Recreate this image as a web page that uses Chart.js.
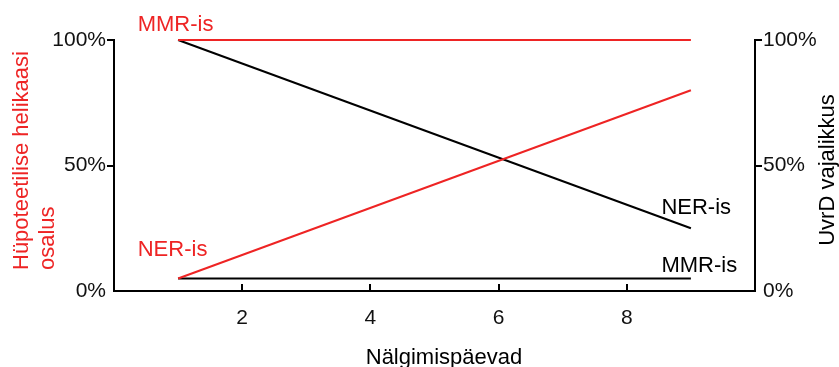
<!DOCTYPE html>
<html>
<head>
<meta charset="utf-8">
<script src="https://cdn.jsdelivr.net/npm/chart.js@4/dist/chart.umd.min.js"></script>
<style>
  html, body { margin: 0; padding: 0; background: #fff; }
</style>
</head>
<body>
<canvas id="myChart" width="839" height="367"></canvas>
<script>
// starvation days on x, both y axes in percent
const days = [1, 9];
const helicaseMMR = [100, 100];   // red, left axis
const helicaseNER = [5, 80];      // red, left axis
const uvrdNER = [100, 25];        // black, right axis
const uvrdMMR = [5, 5];           // black, right axis
const xTicks = [2, 4, 6, 8];
const yTicks = [0, 50, 100];

const xTitle = 'Nälgimispäevad';
const leftTitle = ['Hüpoteetilise helikaasi', 'osalus'];
const rightTitle = 'UvrD vajalikkus';

const RED = '#ee2424';
const FONT = '"Liberation Sans", Arial, sans-serif';

// text tags next to the lines (x in days, y in percent of left axis)
const tags = [
  { text: 'MMR-is', x: 0.37, y: 103.6, color: RED },
  { text: 'NER-is', x: 0.37, y: 13.9, color: RED },
  { text: 'NER-is', x: 8.54, y: 30.7, color: '#000' },
  { text: 'MMR-is', x: 8.54, y: 7.6, color: '#000' }
];

const toPoints = ys => ys.map((y, i) => ({ x: days[i], y: y }));

function lineSet(ys, color, axis) {
  return {
    data: toPoints(ys),
    borderColor: color,
    borderWidth: 2,
    pointRadius: 0,
    yAxisID: axis,
    clip: false
  };
}

const extras = {
  id: 'extras',
  afterDraw(chart) {
    const ctx = chart.ctx;
    const x = chart.scales.x;
    const yL = chart.scales.yL;
    const a = chart.chartArea;
    ctx.save();

    // x ticks point into the plot
    ctx.strokeStyle = '#000';
    ctx.lineWidth = 2;
    xTicks.forEach(v => {
      const px = Math.round(x.getPixelForValue(v));
      ctx.beginPath();
      ctx.moveTo(px, a.bottom);
      ctx.lineTo(px, a.bottom - 7);
      ctx.stroke();
    });

    ctx.font = '22px ' + FONT;
    ctx.textBaseline = 'alphabetic';
    ctx.textAlign = 'left';
    tags.forEach(t => {
      ctx.fillStyle = t.color;
      ctx.fillText(t.text, x.getPixelForValue(t.x), yL.getPixelForValue(t.y));
    });

    // x title
    ctx.fillStyle = '#000';
    ctx.textAlign = 'center';
    ctx.fillText(xTitle, 444, 364);

    // left title, both lines start at the bottom
    ctx.save();
    ctx.fillStyle = RED;
    ctx.textAlign = 'left';
    ctx.textBaseline = 'middle';
    ctx.translate(0, 270);
    ctx.rotate(-Math.PI / 2);
    ctx.fillText(leftTitle[0], 0, 22);
    ctx.fillText(leftTitle[1], 0, 48);
    ctx.restore();

    // right title
    ctx.save();
    ctx.fillStyle = '#000';
    ctx.textAlign = 'center';
    ctx.textBaseline = 'middle';
    ctx.translate(828, 170);
    ctx.rotate(-Math.PI / 2);
    ctx.fillText(rightTitle, 0, 0);
    ctx.restore();

    ctx.restore();
  }
};

function yAxis(pos, width) {
  return {
    type: 'linear',
    position: pos,
    min: 0,
    max: 100,
    afterBuildTicks: s => { s.ticks = yTicks.map(v => ({ value: v })); },
    afterFit: s => { s.width = width; },
    border: { display: true, color: '#000', width: 2 },
    grid: {
      drawOnChartArea: false,
      drawTicks: true,
      tickLength: 7,
      lineWidth: 2,
      color: c => c.tick && c.tick.value === 0 ? 'rgba(0,0,0,0)' : '#000'
    },
    ticks: {
      padding: 1,
      color: '#111',
      font: { family: FONT, size: 21 },
      callback: v => v + '%'
    }
  };
}

new Chart(document.getElementById('myChart'), {
  type: 'line',
  data: {
    datasets: [
      lineSet(helicaseMMR, RED, 'yL'),
      lineSet(helicaseNER, RED, 'yL'),
      lineSet(uvrdNER, '#000', 'yR'),
      lineSet(uvrdMMR, '#000', 'yR')
    ]
  },
  options: {
    responsive: false,
    animation: false,
    layout: { padding: { top: 40, left: 0, right: 0, bottom: 0 } },
    plugins: { legend: { display: false }, tooltip: { enabled: false } },
    scales: {
      x: {
        type: 'linear',
        min: 0,
        max: 10,
        afterBuildTicks: s => { s.ticks = xTicks.map(v => ({ value: v })); },
        afterFit: s => { s.height = 76; },
        border: { display: true, color: '#000', width: 2 },
        grid: { display: false, drawTicks: false },
        ticks: {
          padding: 15,
          maxRotation: 0,
          color: '#111',
          font: { family: FONT, size: 21 }
        }
      },
      yL: yAxis('left', 114),
      yR: yAxis('right', 84)
    }
  },
  plugins: [extras]
});
</script>
</body>
</html>
